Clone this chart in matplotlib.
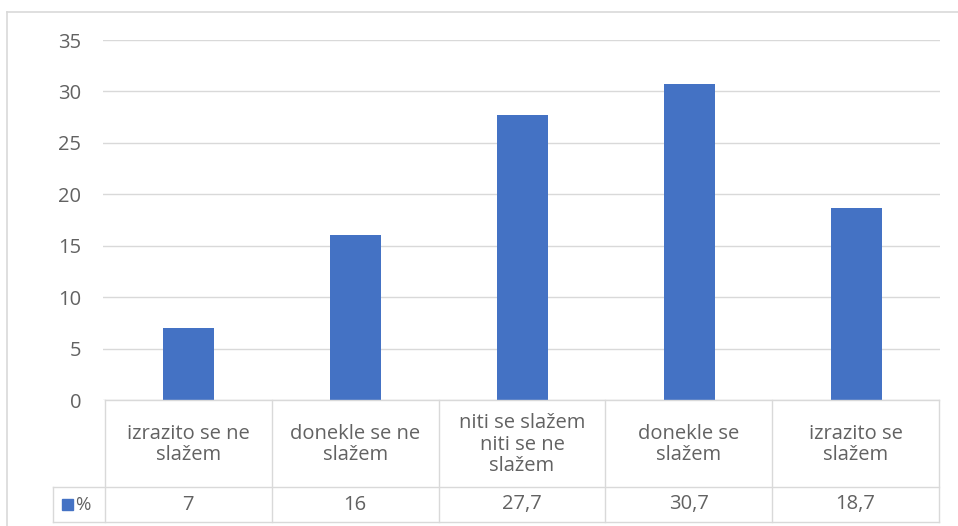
import matplotlib
matplotlib.use("Agg")
import matplotlib.pyplot as plt
from matplotlib.patches import Rectangle

plt.rcParams['font.family'] = ['Open Sans', 'DejaVu Sans']

categories = ["izrazito se ne\nslažem", "donekle se ne\nslažem",
              "niti se slažem\nniti se ne\nslažem", "donekle se\nslažem",
              "izrazito se\nslažem"]
values = [7, 16, 27.7, 30.7, 18.7]
value_labels = ["7", "16", "27,7", "30,7", "18,7"]
series_name = "%"
yticks = [0, 5, 10, 15, 20, 25, 30, 35]

W, H = 958, 526
BLUE = "#4472C4"
TXT = "#626262"
GRID = "#D9D9D9"
FS = 14.5

fig = plt.figure(figsize=(W / 100, H / 100), dpi=100)

def fx(px):
    return px / W

def fy(py):
    return 1 - py / H

# outer chart border (left & top visible; the rest is cropped off)
fig.add_artist(plt.Line2D([fx(7), fx(7)], [fy(12), fy(530)], color=GRID, lw=1.2,
                          transform=fig.transFigure))
fig.add_artist(plt.Line2D([fx(7), fx(960)], [fy(12), fy(12)], color=GRID, lw=1.2,
                          transform=fig.transFigure))

col_w = 167.0
col0 = 105.0
# bar axes
ax_l, ax_r = 103.0, 940.0
ax_t, ax_b = 40.0, 400.0
ax = fig.add_axes([fx(ax_l), fy(ax_b), fx(ax_r - ax_l), (ax_b - ax_t) / H])
n = len(values)
xs = list(range(n))
ax.set_xlim(-0.5 - (col0 - ax_l) / col_w, n - 0.5 + (ax_r - (col0 + n * col_w)) / col_w)
ax.set_ylim(0, 35)
ax.bar(xs, values, width=0.31, color=BLUE, zorder=3)
ax.set_yticks(yticks)
ax.yaxis.grid(True, color=GRID, lw=1.0, zorder=0)
ax.set_xticks([])
for s in ax.spines.values():
    s.set_visible(False)
ax.tick_params(axis='y', length=0, pad=15.5, labelcolor=TXT, labelsize=FS)

# data table axes
tab_l, tab_r = 53.0, 939.0
tab_t, tab_b = 400.0, 522.0
tax = fig.add_axes([fx(tab_l), fy(tab_b), fx(tab_r - tab_l), (tab_b - tab_t) / H])
leg_w = (col0 - tab_l) / col_w
tax.set_xlim(-0.5 - leg_w, n - 0.5)
row_split = (tab_b - 487.0)  # value row height in px
tax.set_ylim(0, tab_b - tab_t)
tax.axis('off')

lkw = dict(color=GRID, lw=1.0, clip_on=False)
# horizontal lines
tax.plot([-0.5, n - 0.5], [tab_b - tab_t] * 2, **lkw)
tax.plot([-0.5 - leg_w, n - 0.5], [row_split] * 2, **lkw)
tax.plot([-0.5 - leg_w, n - 0.5], [0, 0], **lkw)
# vertical lines
tax.plot([-0.5 - leg_w] * 2, [0, row_split], **lkw)
for i in range(n + 1):
    tax.plot([i - 0.5] * 2, [0, tab_b - tab_t], **lkw)

hdr_c = (row_split + (tab_b - tab_t)) / 2 - 1
for i, (c, v) in enumerate(zip(categories, value_labels)):
    tax.text(i, hdr_c, c, ha='center', va='center', color=TXT, fontsize=FS,
             linespacing=1.12)
    tax.text(i, row_split / 2, v, ha='center', va='center', color=TXT, fontsize=FS)

# legend key
tax.add_patch(Rectangle((-0.5 - leg_w + 9 / col_w, row_split / 2 - 5.5), 11 / col_w, 11,
                        color=BLUE, clip_on=False))
tax.text(-0.5 - leg_w + 22 / col_w, row_split / 2, series_name, ha='left', va='center',
         color=TXT, fontsize=FS - 1)

fig.savefig("out.png", dpi=100)
